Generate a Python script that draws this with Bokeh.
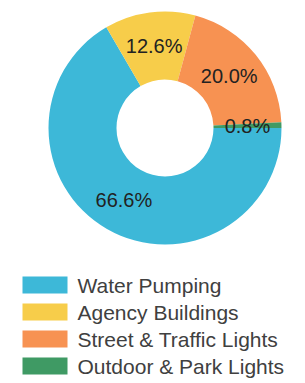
import math
from bokeh.plotting import figure
from bokeh.models import Range1d, ColumnDataSource
from bokeh.core.properties import value
from bokeh.embed import file_html
from bokeh.resources import INLINE

categories = ["Water Pumping", "Agency Buildings", "Street & Traffic Lights", "Outdoor & Park Lights"]
shares = [66.6, 12.6, 20.0, 0.8]
colors = ["#3DB8D8", "#F7CD4A", "#F79252", "#3F9A64"]

W, H = 305, 383
p = figure(width=W, height=H, output_backend="svg", toolbar_location=None,
           x_range=Range1d(0, W), y_range=Range1d(0, H), min_border=0,
           background_fill_color="white", border_fill_color="white")
p.axis.visible = False
p.grid.visible = False
p.outline_line_color = None

cx, cy = 164.5, H - 127.5
r_out, r_in = 116.5, 48.5
total = sum(shares)

starts, ends, lx, ly, labels = [], [], [], [], []
cum = 0.0
for s in shares:
    a0 = -2 * math.pi * cum / total
    cum += s
    a1 = -2 * math.pi * cum / total
    starts.append(a1)
    ends.append(a0)
    mid = (a0 + a1) / 2
    rm = (r_in + r_out) / 2
    lx.append(cx + rm * math.cos(mid))
    ly.append(cy + rm * math.sin(mid))
    labels.append(f"{s:.1f}%")

src = ColumnDataSource(dict(start=starts, end=ends, color=colors,
                            lx=lx, ly=ly, label=labels))
p.annular_wedge(x=cx, y=cy, inner_radius=r_in, outer_radius=r_out,
                start_angle="start", end_angle="end", direction="anticlock",
                fill_color="color", line_color=None, source=src)
p.text(x="lx", y="ly", text="label", source=src, text_align="center",
       text_baseline="middle", text_font=value("Liberation Sans"),
       text_font_size="20px", text_color="#222222")

# legend
row_y = [H - 284.5 - 27 * i for i in range(len(categories))]
leg = ColumnDataSource(dict(y=row_y, color=colors, name=categories))
p.rect(x=44.5, y="y", width=45, height=17, fill_color="color", line_color=None, source=leg)
p.text(x=77, y="y", text="name", source=leg, text_align="left", text_baseline="middle",
       text_font=value("Liberation Sans"), text_font_size="21px", text_color="#404040")

open("out.html", "w").write(file_html(p, INLINE))
